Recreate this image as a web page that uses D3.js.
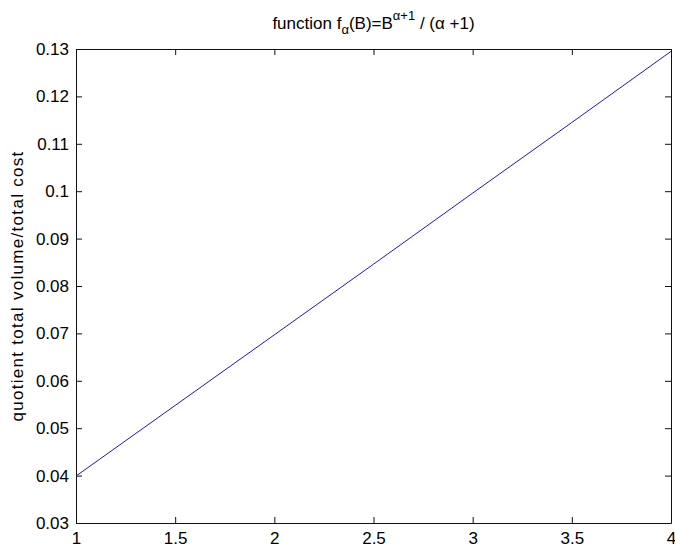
<!DOCTYPE html>
<html>
<head>
<meta charset="utf-8">
<script src="https://cdn.jsdelivr.net/npm/d3@7"></script>
<style>
  html, body { margin: 0; padding: 0; background: #fff; }
  svg { display: block; }
  text { font-family: "Liberation Sans", Arial, sans-serif; fill: #000; }
</style>
</head>
<body>
<svg id="chart" width="675" height="547"></svg>
<script>
// Sampled values of the quotient over B
const bValues = [1, 1.5, 2, 2.5, 3, 3.5, 4];
const quotient = [0.0399, 0.0548, 0.0697, 0.0846, 0.0996, 0.1145, 0.1295];
const xTicks = [1, 1.5, 2, 2.5, 3, 3.5, 4];
const yTicks = [0.03, 0.04, 0.05, 0.06, 0.07, 0.08, 0.09, 0.1, 0.11, 0.12, 0.13];
const yLabel = "quotient total volume/total cost";

const svg = d3.select("#chart");
const margin = { left: 76, right: 4, top: 49, bottom: 24 };
const W = 675, H = 547;
const FONT = 17;
const x = d3.scaleLinear().domain([1, 4]).range([margin.left, W - margin.right]);
const y = d3.scaleLinear().domain([0.03, 0.13]).range([H - margin.bottom, margin.top]);
const tickLen = 6;
const fmt = d => String(+d.toFixed(2));

// Axes (inward ticks on all four sides, boxed)
const gx = svg.append("g").attr("transform", `translate(0,${y(0.03)})`)
  .call(d3.axisBottom(x).tickValues(xTicks).tickFormat(fmt).tickSizeInner(-tickLen).tickSizeOuter(0).tickPadding(9));
const gxt = svg.append("g").attr("transform", `translate(0,${y(0.13)})`)
  .call(d3.axisTop(x).tickValues(xTicks).tickFormat("").tickSizeInner(-tickLen).tickSizeOuter(0));
const gy = svg.append("g").attr("transform", `translate(${x(1)},0)`)
  .call(d3.axisLeft(y).tickValues(yTicks).tickFormat(fmt).tickSizeInner(-tickLen).tickSizeOuter(0).tickPadding(7));
const gyr = svg.append("g").attr("transform", `translate(${x(4)},0)`)
  .call(d3.axisRight(y).tickValues(yTicks).tickFormat("").tickSizeInner(-tickLen).tickSizeOuter(0));

[gx, gxt, gy, gyr].forEach(g => {
  g.selectAll("path.domain").attr("stroke", "#111").attr("stroke-width", 1);
  g.selectAll(".tick line").attr("stroke", "#111").attr("stroke-width", 1);
  g.selectAll("text").style("font-size", FONT + "px").style("font-family", '"Liberation Sans", Arial, sans-serif').attr("fill", "#111");
});

// Data line
const line = d3.line().x((d, i) => x(bValues[i])).y(d => y(d));
svg.append("path")
  .datum(quotient)
  .attr("fill", "none")
  .attr("stroke", "#1c1ca8")
  .attr("stroke-width", 1)
  .attr("d", line);

// Title with subscript and superscript
const title = svg.append("text")
  .attr("x", (x(1) + x(4)) / 2)
  .attr("y", 29)
  .attr("text-anchor", "middle")
  .attr("fill", "#111")
  .style("font-size", FONT + "px");
title.append("tspan").text("function f");
title.append("tspan").attr("dy", 5).style("font-size", "13px").text("α");
title.append("tspan").attr("dy", -5).text("(B)=B");
title.append("tspan").attr("dy", -9).style("font-size", "13px").text("α+1");
title.append("tspan").attr("dy", 9).text(" / (α +1)");

// Y axis label
svg.append("text")
  .attr("transform", `translate(23,${(y(0.03) + y(0.13)) / 2}) rotate(-90)`)
  .attr("text-anchor", "middle")
  .attr("fill", "#111")
  .style("font-size", FONT + "px")
  .style("letter-spacing", "1.3px")
  .text(yLabel);
</script>
</body>
</html>
